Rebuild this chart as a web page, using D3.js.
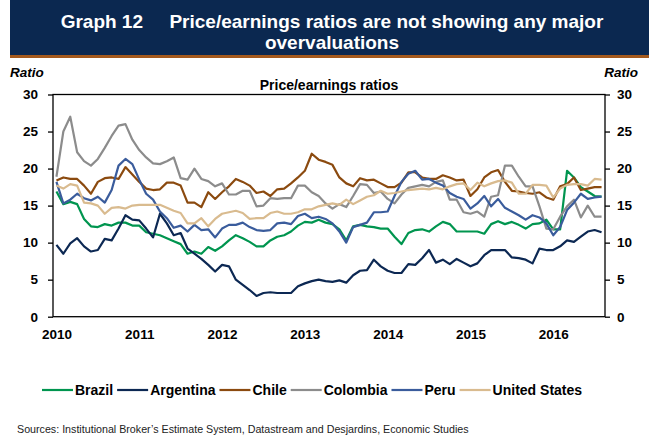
<!DOCTYPE html>
<html>
<head>
<meta charset="utf-8">
<script src="https://cdn.jsdelivr.net/npm/d3@7"></script>
<style>
  body { margin: 0; background: #fff; }
  svg { display: block; font-family: "Liberation Sans", Arial, sans-serif; }
</style>
</head>
<body>
<div id="chart"></div>
<script>
// monthly P/E ratios, Jan 2010 - Aug 2016
var months = d3.timeMonth.range(new Date(2010, 0, 1), new Date(2016, 8, 1));
var years = ["2010", "2011", "2012", "2013", "2014", "2015", "2016"];
var yTicks = [0, 5, 10, 15, 20, 25, 30];

var brazil = [16.9, 15.2, 15.5, 15.2, 13.2, 12.2, 12.1, 12.5, 12.3, 12.7, 12.7, 12.3, 12.3,
  11.4, 11.2, 11.0, 10.6, 10.2, 9.8, 8.5, 8.8, 8.5, 9.4, 8.9, 9.5, 10.3,
  11.0, 10.6, 10.1, 9.5, 9.5, 10.3, 10.8, 11.0, 11.5, 12.3, 12.8, 12.7, 13.1, 12.7,
  12.5, 11.8, 10.3, 12.2, 12.4, 12.2, 12.1, 11.9, 11.9, 10.8, 9.8, 11.3, 11.7,
  11.8, 11.5, 12.2, 12.8, 12.5, 11.5, 11.5, 11.5, 11.5, 11.2, 12.5, 12.9, 12.5,
  12.8, 12.4, 11.9, 12.5, 12.6, 13.1, 11.8, 11.8, 19.7, 18.8, 17.5, 16.9, 16.3, 16.2];
var argentina = [9.7, 8.5, 9.9, 10.6, 9.5, 8.8, 9.0, 10.5, 10.3, 11.9, 13.7, 13.1, 13.0,
  11.9, 10.7, 13.9, 12.6, 11.0, 11.3, 9.2, 8.5, 7.8, 7.0, 6.1, 7.0, 6.8,
  5.0, 4.3, 3.6, 2.8, 3.2, 3.3, 3.2, 3.2, 3.2, 4.1, 4.5, 4.8, 5.0, 4.8,
  4.7, 4.9, 4.6, 5.6, 6.2, 6.3, 7.7, 6.8, 6.2, 5.9, 5.9, 7.1, 7.0,
  7.9, 9.0, 7.3, 7.7, 7.1, 7.8, 7.3, 6.8, 7.2, 8.3, 9.0, 9.0, 9.0,
  8.0, 7.9, 7.7, 7.2, 9.2, 9.0, 9.0, 9.5, 10.3, 10.1, 10.8, 11.5, 11.7, 11.4];
var chile = [18.4, 18.8, 18.6, 18.6, 17.7, 16.6, 18.2, 18.7, 18.8, 18.6, 20.2, 19.2, 18.2,
  17.3, 17.1, 17.2, 18.1, 18.1, 17.7, 15.4, 15.4, 14.8, 16.8, 15.9, 16.8, 17.6,
  18.6, 18.2, 17.7, 16.7, 16.9, 16.3, 17.2, 17.3, 18.0, 18.8, 19.7, 22.0, 21.2, 20.9,
  20.5, 18.8, 18.0, 17.6, 18.7, 18.4, 18.5, 18.0, 17.5, 17.5, 18.1, 19.5, 19.5,
  18.8, 18.6, 18.6, 19.1, 18.8, 18.4, 18.5, 16.3, 17.2, 18.8, 19.5, 19.8,
  18.2, 17.0, 16.9, 16.7, 16.6, 16.8, 16.1, 15.8, 17.6, 17.9, 18.8, 17.1, 17.3, 17.5, 17.5];
var colombia = [18.9, 25.0, 27.0, 22.2, 21.0, 20.4, 21.3, 22.8, 24.4, 25.8, 26.0, 23.9, 22.5,
  21.5, 20.7, 20.6, 21.0, 21.5, 18.7, 18.5, 20.0, 18.6, 18.3, 17.6, 18.0, 16.5,
  16.5, 17.0, 17.0, 14.9, 15.0, 16.0, 15.9, 16.0, 16.0, 17.7, 17.7, 16.8, 16.3, 15.3,
  14.6, 15.2, 14.8, 16.3, 17.9, 17.8, 16.7, 16.9, 15.9, 15.3, 16.5, 17.4, 17.6,
  17.8, 17.6, 18.2, 18.4, 15.8, 15.8, 14.1, 13.9, 14.2, 13.5, 16.2, 16.4, 20.4,
  20.4, 18.9, 17.6, 17.6, 14.9, 11.9, 11.8, 13.5, 14.9, 15.8, 13.4, 15.0, 13.5, 13.5];
var peru = [18.2, 15.3, 15.8, 16.6, 16.0, 15.7, 16.2, 15.4, 17.1, 20.4, 21.3, 20.6, 18.5,
  16.6, 15.8, 14.2, 13.3, 12.0, 12.3, 11.5, 12.4, 11.7, 11.8, 10.7, 11.9, 12.4,
  12.4, 12.7, 12.1, 11.7, 11.6, 11.7, 12.6, 12.7, 12.5, 13.6, 13.9, 13.3, 13.5, 13.2,
  12.6, 11.5, 10.0, 12.1, 12.4, 12.7, 14.1, 14.1, 14.2, 16.3, 18.2, 19.3, 19.7,
  18.5, 18.6, 18.1, 17.7, 16.7, 16.2, 15.9, 14.6, 15.3, 16.3, 14.9, 15.9, 14.7,
  14.2, 13.7, 13.1, 13.7, 13.4, 12.6, 11.0, 12.1, 14.4, 15.4, 16.6, 15.9, 16.1, 16.2];
var unitedStates = [17.7, 17.3, 17.9, 17.7, 15.4, 15.3, 15.0, 13.9, 14.7, 14.8, 14.6, 15.0, 15.1,
  15.1, 15.1, 15.1, 14.7, 14.3, 14.0, 12.6, 12.6, 13.3, 12.2, 13.2, 13.9, 14.1,
  14.3, 14.0, 13.2, 13.3, 13.3, 14.0, 14.2, 13.9, 13.9, 14.1, 14.5, 14.5, 14.9, 15.1,
  15.3, 15.1, 15.8, 15.2, 15.7, 16.2, 16.4, 17.0, 16.6, 16.7, 16.9, 17.1, 17.2,
  17.3, 17.2, 17.4, 17.2, 17.6, 17.9, 18.0, 17.1, 18.1, 17.6, 18.0, 18.3, 18.4,
  18.1, 16.6, 16.6, 17.8, 17.8, 17.7, 16.1, 17.3, 17.8, 17.9, 17.9, 17.7, 18.6, 18.5];

var seriesNames = ["Brazil", "Argentina", "Chile", "Colombia", "Peru", "United States"];
var seriesValues = [brazil, argentina, chile, colombia, peru, unitedStates];
var seriesColors = ["#00954f", "#0c2853", "#8b4a0f", "#8c8c8c", "#3a5c9c", "#d9bb8f"];

var width = 649, height = 438;
var plot = {left: 53, right: 605, top: 94.5, bottom: 316.7};

var svg = d3.select("#chart").append("svg")
  .attr("width", width)
  .attr("height", height);

// title banner
svg.append("rect").attr("x", 10).attr("y", 0).attr("width", width - 10).attr("height", 55).attr("fill", "#0b2850");
svg.append("rect").attr("x", 10).attr("y", 55).attr("width", width - 10).attr("height", 3).attr("fill", "#a4591c");
svg.append("text").attr("x", 332).attr("y", 28).attr("text-anchor", "middle")
  .attr("fill", "#fff").attr("font-size", 19).attr("font-weight", "bold")
  .attr("xml:space", "preserve")
  .text("Graph 12     Price/earnings ratios are not showing any major");
svg.append("text").attr("x", 332).attr("y", 49).attr("text-anchor", "middle")
  .attr("fill", "#fff").attr("font-size", 19).attr("font-weight", "bold")
  .text("overvaluations");

// axis titles
svg.append("text").attr("x", 10).attr("y", 77).attr("font-size", 13.5)
  .attr("font-weight", "bold").attr("font-style", "italic").text("Ratio");
svg.append("text").attr("x", 638).attr("y", 77).attr("font-size", 13.5).attr("text-anchor", "end")
  .attr("font-weight", "bold").attr("font-style", "italic").text("Ratio");
svg.append("text").attr("x", 329).attr("y", 90).attr("font-size", 14).attr("text-anchor", "middle")
  .attr("font-weight", "bold").text("Price/earnings ratios");

var x = d3.scalePoint().domain(d3.range(months.length)).range([plot.left, plot.right]).padding(0.5);
var y = d3.scaleLinear().domain([0, 30]).range([plot.bottom, plot.top]);

// frame
svg.append("rect")
  .attr("x", plot.left).attr("y", plot.top)
  .attr("width", plot.right - plot.left).attr("height", plot.bottom - plot.top)
  .attr("fill", "none").attr("stroke", "#000").attr("stroke-width", 1.3);

var leftAxis = svg.append("g").attr("transform", "translate(" + plot.left + ",0)")
  .call(d3.axisLeft(y).tickValues(yTicks).tickSize(5).tickPadding(10));
var rightAxis = svg.append("g").attr("transform", "translate(" + plot.right + ",0)")
  .call(d3.axisRight(y).tickValues(yTicks).tickSize(5).tickPadding(7));

var janIdx = months.map(function(m, i) { return i; }).filter(function(i) { return months[i].getMonth() == 0; });
var bottomAxis = svg.append("g").attr("transform", "translate(0," + plot.bottom + ")")
  .call(d3.axisBottom(x).tickValues(janIdx).tickSize(0).tickPadding(13)
    .tickFormat(function(d, i) { return years[i]; }));

[leftAxis, rightAxis, bottomAxis].forEach(function(a) {
  a.select(".domain").remove();
  a.selectAll("line").attr("stroke", "#000").attr("stroke-width", 1.3);
  a.selectAll("text").attr("font-size", 13.5).attr("font-weight", "bold")
    .attr("font-family", "'Liberation Sans', Arial, sans-serif").attr("fill", "#000");
});

// series lines
var line = d3.line()
  .x(function(d, i) { return x(i); })
  .y(function(d) { return y(d); });

seriesValues.forEach(function(vals, k) {
  svg.append("path")
    .datum(vals)
    .attr("fill", "none")
    .attr("stroke", seriesColors[k])
    .attr("stroke-width", 2.2)
    .attr("stroke-linejoin", "round")
    .attr("d", line);
});

// legend
var lx = 42;
seriesNames.forEach(function(name, k) {
  svg.append("line").attr("x1", lx).attr("x2", lx + 31).attr("y1", 390).attr("y2", 390)
    .attr("stroke", seriesColors[k]).attr("stroke-width", 2.2);
  var t = svg.append("text").attr("x", lx + 33).attr("y", 395)
    .attr("font-size", 14).attr("font-weight", "bold").text(name);
  lx += 33 + t.node().getComputedTextLength() + 4;
});

svg.append("text").attr("x", 17).attr("y", 433).attr("font-size", 10.7).attr("fill", "#222")
  .text("Sources: Institutional Broker\u2019s Estimate System, Datastream and Desjardins, Economic Studies");
</script>
</body>
</html>
